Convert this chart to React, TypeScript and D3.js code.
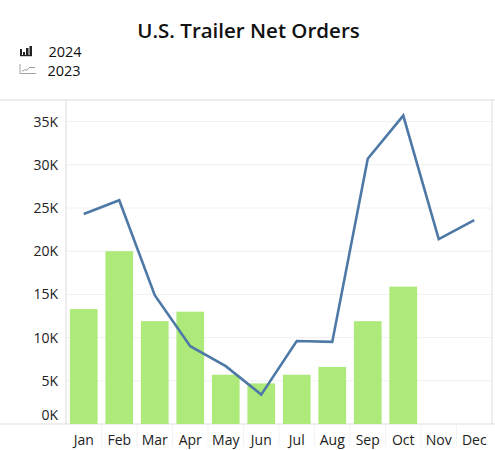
import React from 'react';
import * as d3 from 'd3';

const width = 495;
const height = 450;
const months = ['Jan', 'Feb', 'Mar', 'Apr', 'May', 'Jun', 'Jul', 'Aug', 'Sep', 'Oct', 'Nov', 'Dec'];
const orders2024 = [13300, 20000, 11900, 13000, 5700, 4700, 5700, 6600, 11900, 15900, null, null];
const orders2023 = [24300, 25900, 14900, 9000, 6700, 3400, 9600, 9500, 30700, 35700, 21400, 23600];
const yTicks = [0, 5000, 10000, 15000, 20000, 25000, 30000, 35000];

const plot = { left: 66, right: 492, top: 100, bottom: 424 };
const font = '"Open Sans", Lato, sans-serif';

export default function App() {
  const x = d3.scaleBand().domain(months).range([plot.left, plot.right]).paddingInner(0.22).paddingOuter(0.11);
  const y = d3.scaleLinear().domain([0, 37500]).range([plot.bottom, plot.top]);

  const line = d3.line<number>()
    .x((d, i) => (x(months[i]) as number) + x.bandwidth() / 2)
    .y(d => y(d));

  const fmt = (v: number) => `${v / 1000}K`;

  return (
    <svg width={width} height={height} style={{ position: 'absolute', left: 0, top: 0 }}>
      <text x={248.5} y={38} textAnchor="middle" fontFamily={font} fontSize={20.5} fontWeight={600} fill="#111">
        U.S. Trailer Net Orders
      </text>

      {/* legend */}
      <g>
        <g fill="#222">
          <rect x={20} y={49} width={2} height={7} />
          <rect x={23} y={52} width={2} height={4} />
          <rect x={26} y={48} width={2.5} height={8} />
          <rect x={29.5} y={46} width={2.5} height={10} />
          <rect x={20} y={55} width={12} height={1.2} />
        </g>
        <text x={48.5} y={56.5} fontFamily={font} fontSize={14.5} fill="#111">2024</text>
        <g fill="none" stroke="#999" strokeWidth={0.9}>
          <path d="M20,64 V73.5 H36" />
          <path d="M22,71.5 L25,69.5 L27,70.5 L29,67.5 L35,67.5" />
        </g>
        <text x={47.5} y={75.5} fontFamily={font} fontSize={14.5} fill="#111">2023</text>
      </g>

      {/* grid */}
      {yTicks.slice(1).map(t => (
        <line key={t} x1={plot.left} x2={plot.right} y1={y(t)} y2={y(t)} stroke="#f0f0f0" strokeWidth={1} />
      ))}

      {/* frame */}
      <line x1={0} x2={width} y1={plot.top} y2={plot.top} stroke="#ddd" />
      <line x1={plot.left} x2={plot.left} y1={plot.top} y2={plot.bottom} stroke="#ddd" />
      <line x1={plot.right} x2={plot.right} y1={plot.top} y2={plot.bottom} stroke="#ddd" />
      <line x1={0} x2={width} y1={plot.bottom} y2={plot.bottom} stroke="#ddd" />
      {months.map((m, i) => i > 0 && (
        <line key={m} x1={(x(m) as number) - x.step() * 0.11} x2={(x(m) as number) - x.step() * 0.11}
          y1={plot.bottom} y2={plot.bottom + 22} stroke="#f3f3f3" />
      ))}

      {/* bars */}
      {orders2024.map((v, i) => v != null && (
        <rect key={months[i]} x={x(months[i])} y={y(v)} width={x.bandwidth()} height={y(0) - y(v)} fill="#aeea7a" />
      ))}

      {/* line */}
      <path d={line(orders2023) || ''} fill="none" stroke="#4e79a7" strokeWidth={2.6} strokeLinejoin="miter" />

      {/* y labels */}
      {yTicks.map(t => (
        <text key={t} x={58} y={t === 0 ? y(t) - 4 : y(t) + 5} textAnchor="end" fontFamily={font} fontSize={14} fill="#222">
          {fmt(t)}
        </text>
      ))}

      {/* x labels */}
      {months.map(m => (
        <text key={m} x={(x(m) as number) + x.bandwidth() / 2} y={445} textAnchor="middle" fontFamily={font} fontSize={14} fill="#222">
          {m}
        </text>
      ))}
    </svg>
  );
}
